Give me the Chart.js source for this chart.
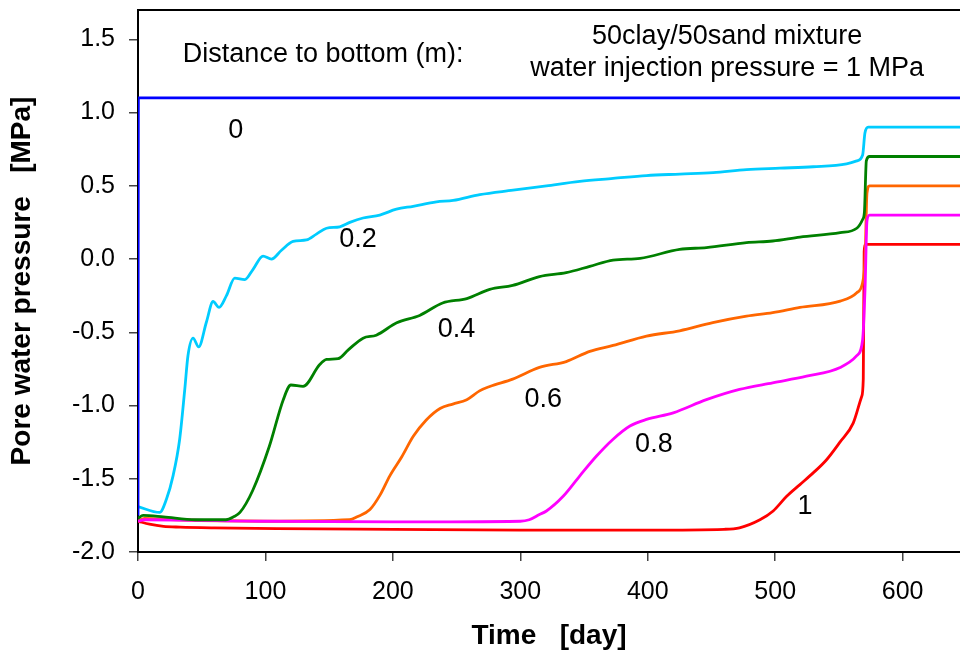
<!DOCTYPE html>
<html>
<head>
<meta charset="utf-8">
<title>Pore water pressure</title>
<script src="https://cdn.jsdelivr.net/npm/chart.js@4.4.1/dist/chart.umd.min.js"></script>
<style>
  html, body { margin: 0; padding: 0; background: #fff; }
  #wrap { width: 960px; height: 655px; }
</style>
</head>
<body>
<div id="wrap"><canvas id="chart" width="960" height="655"></canvas></div>
<script>
const FONT = "'Liberation Sans', Arial, Helvetica, sans-serif";

// distance to bottom 0 m (injection side)
const days00 = [0, 0.3, 645];
const pres00 = [-1.75, 1.1, 1.1];

// 0.2 m
const days02 = [0, 17, 22.3, 27.5, 32.7, 36.7, 39.2, 43.2, 47.6, 53.7, 58.9, 63.6, 69.4, 75.9, 83.8, 90.3,
  98.1, 104.7, 112.6, 121.7, 132.2, 140, 147.9, 158.3, 166.2, 176.6, 189.7, 202.8, 215.9, 234.2, 247.3,
  268.2, 294.3, 320.5, 346.7, 372.8, 399, 425.2, 451.3, 477.5, 503.7, 529.8, 556, 564, 568.6, 570.4, 573, 645];
const pres02 = [-1.69, -1.73, -1.64, -1.48, -1.23, -0.89, -0.66, -0.54, -0.60, -0.43, -0.29, -0.33, -0.25, -0.13, -0.14, -0.07,
  0.02, 0.00, 0.06, 0.12, 0.13, 0.17, 0.21, 0.22, 0.25, 0.28, 0.30, 0.34, 0.36, 0.39, 0.40,
  0.44, 0.47, 0.50, 0.53, 0.55, 0.57, 0.58, 0.59, 0.61, 0.62, 0.63, 0.65, 0.67, 0.71, 0.86, 0.90, 0.90];

// 0.4 m
const days04 = [0, 4, 20, 45, 69, 75, 80, 90, 103, 114, 120, 129.5, 142.6, 148, 157, 165, 176.6, 187, 203, 221,
  239, 258, 276, 294, 315, 336, 354.5, 372.8, 394, 425, 446, 477.5, 498, 519.4, 551, 564, 568.6, 570, 571.5, 574, 645];
const pres04 = [-1.77, -1.75, -1.76, -1.78, -1.78, -1.76, -1.73, -1.58, -1.28, -0.96, -0.86, -0.87, -0.72, -0.685, -0.68, -0.62, -0.54, -0.52, -0.435, -0.385,
  -0.30, -0.27, -0.207, -0.18, -0.12, -0.093, -0.05, -0.007, 0.005, 0.066, 0.078, 0.112, 0.123, 0.15, 0.18, 0.21, 0.27, 0.32, 0.67, 0.70, 0.70];

// 0.6 m
const days06 = [0, 5, 30, 100, 166, 172, 182, 190, 197.6, 207, 216, 226, 237, 247, 258, 268, 276, 294, 315, 336,
  354.5, 372.8, 399, 425, 451, 477.5, 498, 519.4, 551, 564, 568.6, 570.5, 572, 574, 645];
const pres06 = [-1.79, -1.77, -1.78, -1.79, -1.78, -1.76, -1.71, -1.61, -1.48, -1.35, -1.21, -1.10, -1.02, -0.99, -0.96, -0.90, -0.87, -0.82, -0.74, -0.70,
  -0.63, -0.59, -0.526, -0.49, -0.434, -0.39, -0.366, -0.33, -0.287, -0.23, -0.16, 0.0, 0.45, 0.50, 0.50];

// 0.8 m
const days08 = [0, 5, 100, 200, 300, 307, 315, 320.5, 333.6, 346.7, 359.8, 372.8, 386, 399, 420, 446, 472, 498,
  524.6, 551, 564, 568.6, 570.5, 572, 574, 645];
const pres08 = [-1.79, -1.78, -1.79, -1.795, -1.79, -1.78, -1.744, -1.72, -1.62, -1.48, -1.345, -1.23, -1.14, -1.095, -1.05, -0.96, -0.89, -0.845,
  -0.80, -0.74, -0.66, -0.55, -0.2, 0.26, 0.30, 0.30];

// 1 m
const days10 = [0, 9, 20, 33, 60, 109, 200, 300, 400, 460, 472, 488, 498.4, 509, 519.4, 529.8, 540.3, 550.8, 561.2,
  567.8, 569.1, 569.8, 571, 645];
const pres10 = [-1.79, -1.81, -1.825, -1.83, -1.835, -1.84, -1.845, -1.85, -1.85, -1.845, -1.835, -1.78, -1.72, -1.62, -1.54, -1.46, -1.37, -1.25, -1.12,
  -0.94, -0.82, 0.05, 0.10, 0.10];

const xTicksStep = 100;
const yTicksStep = 0.5;

// texts inside the plot, placed in data coordinates (baseline)
const notes = [
  { text: "Distance to bottom (m):", day: 35.2, p: 1.344, align: "left" },
  { text: "50clay/50sand mixture", day: 462.3, p: 1.467, align: "center" },
  { text: "water injection pressure = 1 MPa", day: 462.3, p: 1.248, align: "center" },
  { text: "0", day: 76.7, p: 0.829, align: "center" },
  { text: "0.2", day: 172.7, p: 0.085, align: "center" },
  { text: "0.4", day: 250, p: -0.53, align: "center" },
  { text: "0.6", day: 318, p: -1.008, align: "center" },
  { text: "0.8", day: 404.8, p: -1.316, align: "center" },
  { text: "1", day: 523.3, p: -1.739, align: "center" }
];

function pts(days, pres) {
  return days.map((d, i) => ({ x: d, y: pres[i] }));
}

function series(label, days, pres, color) {
  return {
    label,
    data: pts(days, pres),
    borderColor: color,
    backgroundColor: color,
    borderWidth: 2.8,
    pointRadius: 0,
    fill: false,
    cubicInterpolationMode: "monotone"
  };
}

const notesPlugin = {
  id: "notes",
  afterDatasetsDraw(c) {
    const { ctx, chartArea, scales } = c;
    ctx.save();
    // top frame line
    ctx.strokeStyle = "#000";
    ctx.lineWidth = 2;
    ctx.beginPath();
    ctx.moveTo(chartArea.left, chartArea.top);
    ctx.lineTo(chartArea.right, chartArea.top);
    ctx.stroke();

    ctx.fillStyle = "#000";
    ctx.font = `27px ${FONT}`;
    ctx.textBaseline = "alphabetic";
    for (const n of notes) {
      ctx.textAlign = n.align;
      ctx.fillText(n.text, scales.x.getPixelForValue(n.day), scales.y.getPixelForValue(n.p));
    }
    ctx.restore();
  }
};

new Chart(document.getElementById("chart"), {
  type: "line",
  data: {
    datasets: [
      series("0", days00, pres00, "#0000FF"),
      series("0.2", days02, pres02, "#00CCFF"),
      series("0.4", days04, pres04, "#008000"),
      series("0.8", days08, pres08, "#FF00FF"),
      series("0.6", days06, pres06, "#FF6600"),
      series("1", days10, pres10, "#FF0000")
    ]
  },
  options: {
    responsive: false,
    animation: false,
    layout: { padding: { top: 10, left: 0, right: 0, bottom: 0 } },
    plugins: { legend: { display: false }, tooltip: { enabled: false } },
    scales: {
      x: {
        type: "linear",
        min: 0,
        max: 645,
        afterFit(s) { s.height = 103; s.paddingLeft = 0; s.paddingRight = 0; },
        border: { color: "#000", width: 2 },
        grid: { drawOnChartArea: false, tickLength: 9, color: "#444", lineWidth: 1.5 },
        ticks: {
          stepSize: xTicksStep, includeBounds: false, padding: 16, maxRotation: 0,
          color: "#000", font: { family: FONT, size: 25 }
        },
        title: {
          display: true, text: "Time   [day]", color: "#000", padding: 2,
          font: { family: FONT, size: 28, weight: "bold" }
        }
      },
      y: {
        type: "linear",
        min: -2,
        max: 1.7,
        afterFit(s) { s.width = 138; s.paddingTop = 0; s.paddingBottom = 0; },
        border: { color: "#000", width: 2 },
        grid: { drawOnChartArea: false, tickLength: 9, color: "#444", lineWidth: 1.5 },
        ticks: {
          stepSize: yTicksStep, includeBounds: false, padding: 14,
          color: "#000", font: { family: FONT, size: 25 },
          callback: (v) => Number(v).toFixed(1)
        },
        title: {
          display: true, text: "Pore water pressure   [MPa]", color: "#000", padding: 5,
          font: { family: FONT, size: 28, weight: "bold" }
        }
      }
    }
  },
  plugins: [notesPlugin]
});
</script>
</body>
</html>
